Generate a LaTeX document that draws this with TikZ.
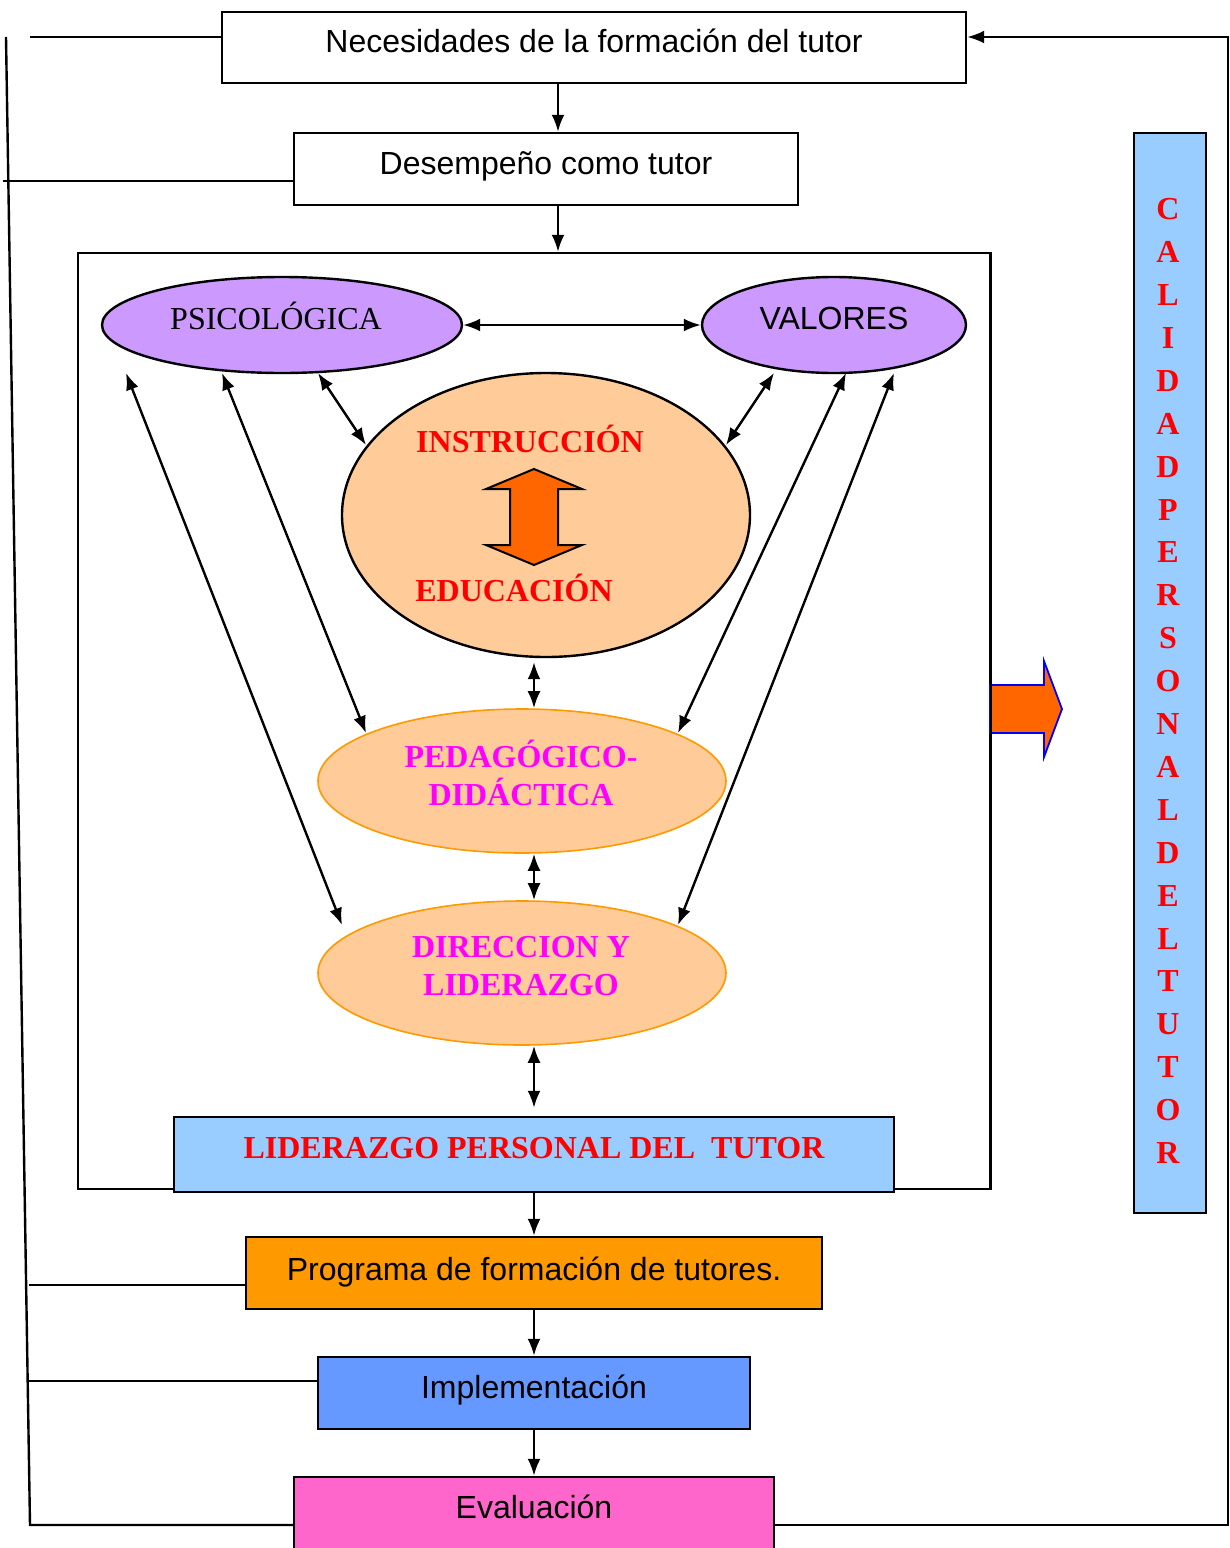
\documentclass[tikz,border=0pt]{standalone}
\usepackage{fontspec}
\setmainfont{Liberation Serif}
\newfontfamily\arialf{Liberation Sans}
\usetikzlibrary{arrows.meta,shapes.geometric,calc}
\definecolor{lila}{HTML}{CC99FF}
\definecolor{peach}{HTML}{FFCC99}
\definecolor{orngB}{HTML}{FF9900}
\definecolor{lblue}{HTML}{99CCFF}
\definecolor{blu}{HTML}{6699FF}
\definecolor{pinkf}{HTML}{FF66CC}
\definecolor{arrorange}{HTML}{FF6600}
\definecolor{magen}{HTML}{FF00FF}
\begin{document}
\begin{tikzpicture}[x=1pt,y=-1pt,
  box/.style={draw, line width=2.4pt, inner sep=0pt, font=\arialf\fontsize{32}{38}\selectfont},
  ell/.style={ellipse, draw, line width=2.4pt, inner sep=0pt},
  ln/.style={line width=2.4pt},
  arr/.style={line width=2.4pt, -{Latex[length=17pt,width=13pt]}},
  dbl/.style={line width=2.4pt, {Latex[length=17pt,width=13pt]}-{Latex[length=17pt,width=13pt]}},
  redt/.style={text=red, font=\bfseries\fontsize{32}{38}\selectfont},
  magt/.style={text=magen, font=\bfseries\fontsize{32}{38}\selectfont, align=center}]
\useasboundingbox (0,0) rectangle (1230,1548);
\fill[white] (0,0) rectangle (1230,1548);

% top boxes
\node[box, minimum width=744pt, minimum height=71pt] (nec) at (594,47.5) {\raisebox{14pt}{Necesidades de la formación del tutor}};
\node[box, minimum width=504pt, minimum height=72pt] (des) at (546,169) {\raisebox{12pt}{Desempeño como tutor}};

% frame
\node[draw, line width=2.4pt, inner sep=0pt, minimum width=912pt, minimum height=936pt] (frame) at (534,721) {};

% ellipses
\node[ell, fill=lila, minimum width=360pt, minimum height=96pt, font=\fontsize{32}{38}\selectfont] (psi) at (282,325) {\hspace*{-12pt}\raisebox{18pt}{PSICOLÓGICA}};
\node[ell, fill=lila, minimum width=264pt, minimum height=96pt, font=\arialf\fontsize{32}{38}\selectfont] (val) at (834,325) {\raisebox{13pt}{VALORES}};
\node[ell, fill=peach, minimum width=408pt, minimum height=284pt] (ins) at (546,515) {};
\node[redt] (inst) at (530,439) {INSTRUCCIÓN};
\node[redt] (edut) at (514,588) {EDUCACIÓN};
\node[ell, draw=orngB, fill=peach, minimum width=408pt, minimum height=144pt, line width=1.6pt] (ped) at (522,781) {};
\node[magt] (pedt) at (521,773) {PEDAGÓGICO-\\DIDÁCTICA};
\node[ell, draw=orngB, fill=peach, minimum width=408pt, minimum height=144pt, line width=1.6pt] (dir) at (522,973) {};
\node[magt] (dirt) at (521,966) {DIRECCION Y\\LIDERAZGO};

% double block arrow inside
\filldraw[fill=arrorange, draw=black, line width=2pt, line join=miter]
  (534,469) -- (582,489) -- (558,489) -- (558,545) -- (582,545) -- (534,565)
  -- (486,545) -- (510,545) -- (510,489) -- (486,489) -- cycle;

% liderazgo box
\node[box, fill=lblue, minimum width=720pt, minimum height=75pt, text=red, font=\bfseries\fontsize{32}{38}\selectfont] (lid) at (534,1154.5) {\raisebox{14pt}{LIDERAZGO PERSONAL DEL\ \ TUTOR}};

% bottom boxes
\node[box, fill=orngB, minimum width=576pt, minimum height=72pt] (prog) at (534,1273) {\raisebox{9pt}{Programa de formación de tutores.}};
\node[box, fill=blu, minimum width=432pt, minimum height=72pt] (impl) at (534,1393) {\raisebox{12pt}{Implementación}};
\node[box, fill=pinkf, minimum width=480pt, minimum height=80pt] (eval) at (534,1517) {\raisebox{20pt}{Evaluación}};

% vertical box
\node[box, fill=lblue, minimum width=72pt, minimum height=1080pt] (cal) at (1170,673) {};
\node[align=center, text=red, inner sep=0pt, font=\bfseries\fontsize{32}{42.9}\selectfont] (calt) at (1168,681)
  {C\\A\\L\\I\\D\\A\\D\\P\\E\\R\\S\\O\\N\\A\\L\\D\\E\\L\\T\\U\\T\\O\\R};

% orange right arrow
\filldraw[fill=arrorange, draw=blue, line width=1.8pt, line join=miter]
  (990,685) -- (1044,685) -- (1044,661) -- (1062,709) -- (1044,757) -- (1044,733) -- (990,733) -- cycle;
\draw[line width=2.4pt] (frame.north east) -- (frame.south east);

% connectors
\draw[arr] ([xshift=-36pt]nec.south) -- ([xshift=-36pt]nec.south |- des.north);
\draw[arr] ([xshift=12pt]des.south) -- ([xshift=12pt]des.south |- frame.north);
\draw[dbl] (psi.east) -- (val.west);
\draw[dbl] ($(psi.center)+(36,48)$) -- ($(ins.center)+(-180,-70)$);
\draw[dbl] ($(val.center)+(-60,48)$) -- ($(ins.center)+(180,-70)$);
\draw[dbl] ($(psi.center)+(-156,48)$) -- ($(dir.center)+(-180,-48)$);
\draw[dbl] ($(psi.center)+(-60,48)$) -- ($(ped.center)+(-156,-48)$);
\draw[dbl] ($(val.center)+(12,48)$) -- ($(ped.center)+(156,-48)$);
\draw[dbl] ($(val.center)+(60,48)$) -- ($(dir.center)+(156,-48)$);
\draw[dbl] ($(ins.south)+(-12,4)$) -- ($(ped.north)+(12,0)$);
\draw[dbl] ($(ped.south)+(12,0)$) -- ($(dir.north)+(12,0)$);
\draw[dbl] ($(dir.south)+(12,0)$) -- ($(lid.north)+(0,-8)$);
\draw[arr] (lid.south) -- (prog.north);
\draw[arr] (prog.south) -- (impl.north);
\draw[arr] (impl.south) -- (eval.north);

% left feedback lines
\coordinate (ltop) at (6,37);
\coordinate (lbot) at (30,1525);
\draw[ln] (ltop) -- (lbot) -- ($(eval.west)+(0,8)$);
\draw[ln] ($(ltop)+(24,0)$) -- ($(nec.west)+(0,-10.5)$);
\draw[ln] ($(des.west)+(0,12)$) -- ++(-290,0);
\draw[ln] ($(prog.west)+(0,12)$) -- ++(-216,0);
\draw[ln] ($(impl.west)+(0,-12)$) -- ++(-288,0);

% right feedback line
\coordinate (rtop) at (1228,37);
\draw[arr] ($(eval.east)+(0,8)$) -| (rtop) -- ($(nec.east)+(0,-10.5)$);
\end{tikzpicture}
\end{document}
